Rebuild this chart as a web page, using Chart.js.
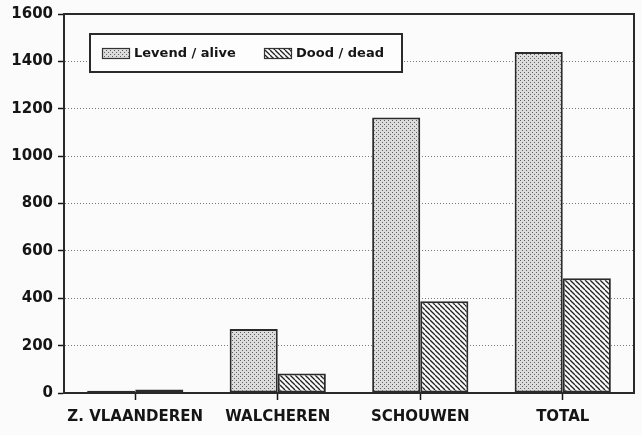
<!DOCTYPE html>
<html>
<head>
<meta charset="utf-8">
<script src="https://cdn.jsdelivr.net/npm/chart.js@4"></script>
<style>
  body { margin: 0; background: #fbfbfb; }
  #wrap { width: 642px; height: 435px; }
</style>
</head>
<body>
<div id="wrap"><canvas id="chart" width="642" height="435"></canvas></div>
<script>
const categories = ['Z. VLAANDEREN', 'WALCHEREN', 'SCHOUWEN', 'TOTAL'];
const alive = [10, 270, 1163, 1440];
const dead = [15, 82, 387, 484];
const yTicks = [0, 200, 400, 600, 800, 1000, 1200, 1400, 1600];
const seriesNames = ['Levend / alive', 'Dood / dead'];

const ink = '#151515';
const ctx = document.getElementById('chart').getContext('2d');

// stippled fill for "alive"
function dotPattern() {
    const c = document.createElement('canvas');
    c.width = 4; c.height = 4;
    const g = c.getContext('2d');
    g.fillStyle = '#dcdcdc';
    g.fillRect(0, 0, 4, 4);
    g.fillStyle = '#5e5e5e';
    g.fillRect(0, 0, 1, 1);
    g.fillRect(2, 2, 1, 1);
    return ctx.createPattern(c, 'repeat');
}

// diagonal hatch for "dead"
function hatchPattern() {
    const c = document.createElement('canvas');
    c.width = 5; c.height = 5;
    const g = c.getContext('2d');
    g.fillStyle = '#fafafa';
    g.fillRect(0, 0, 5, 5);
    g.strokeStyle = '#222';
    g.lineWidth = 1.3;
    [-5, 0, 5].forEach(o => {
        g.beginPath();
        g.moveTo(o, 0);
        g.lineTo(o + 5, 5);
        g.stroke();
    });
    return ctx.createPattern(c, 'repeat');
}

const fills = [dotPattern(), hatchPattern()];

// frame on top/right plus the boxed legend inside the plot
const framePlugin = {
    id: 'frame',
    afterDraw(chart) {
        const a = chart.chartArea;
        const g = chart.ctx;
        g.save();
        g.strokeStyle = '#2a2a2a';
        g.lineWidth = 2;
        g.beginPath();
        g.moveTo(a.left, a.top);
        g.lineTo(a.right, a.top);
        g.lineTo(a.right, a.bottom);
        g.stroke();

        const bx = a.left + 26, by = a.top + 20, bw = 312, bh = 38;
        g.fillStyle = '#fdfdfd';
        g.fillRect(bx, by, bw, bh);
        g.strokeRect(bx, by, bw, bh);

        g.font = 'bold 13px "DejaVu Sans"';
        g.textBaseline = 'middle';
        const items = [{ x: bx + 12, text: seriesNames[0] }, { x: bx + 174, text: seriesNames[1] }];
        items.forEach((it, i) => {
            g.fillStyle = fills[i];
            g.fillRect(it.x, by + 14, 27, 10);
            g.lineWidth = 1.2;
            g.strokeStyle = '#333';
            g.strokeRect(it.x + 0.5, by + 14.5, 27, 10);
            g.fillStyle = ink;
            g.fillText(it.text, it.x + 32, by + 20);
        });
        g.restore();
    }
};

new Chart(ctx, {
    type: 'bar',
    data: {
        labels: categories,
        datasets: [
            {
                label: seriesNames[0],
                data: alive,
                backgroundColor: fills[0],
                borderColor: '#2a2a2a',
                borderWidth: 2,
                borderSkipped: false
            },
            {
                label: seriesNames[1],
                data: dead,
                backgroundColor: fills[1],
                borderColor: '#2a2a2a',
                borderWidth: 2,
                borderSkipped: false
            }
        ]
    },
    options: {
        responsive: false,
        animation: false,
        layout: { padding: { top: 14, right: 8, left: 0, bottom: 0 } },
        datasets: { bar: { barPercentage: 1, categoryPercentage: 0.675 } },
        plugins: {
            legend: { display: false },
            tooltip: { enabled: false }
        },
        scales: {
            x: {
                afterFit: s => { s.height = 42; },
                grid: {
                    offset: false,
                    drawOnChartArea: false,
                    tickLength: 7,
                    tickColor: ink,
                    tickWidth: 1.5
                },
                border: { color: '#2a2a2a', width: 2 },
                ticks: {
                    color: ink,
                    padding: 8,
                    font: { family: 'DejaVu Sans', weight: 'bold', size: 15 }
                }
            },
            y: {
                min: yTicks[0],
                max: yTicks[yTicks.length - 1],
                afterFit: s => { s.width = 64; },
                afterBuildTicks: s => { s.ticks = yTicks.map(v => ({ value: v })); },
                grid: {
                    color: '#7a7a7a',
                    lineWidth: 1,
                    tickLength: 6,
                    tickColor: ink,
                    tickWidth: 1.5
                },
                border: { color: '#2a2a2a', width: 2, dash: [1, 2] },
                ticks: {
                    color: ink,
                    padding: 5,
                    font: { family: 'DejaVu Sans', weight: 'bold', size: 15 },
                    callback: v => String(v)
                }
            }
        }
    },
    plugins: [framePlugin]
});
</script>
</body>
</html>
